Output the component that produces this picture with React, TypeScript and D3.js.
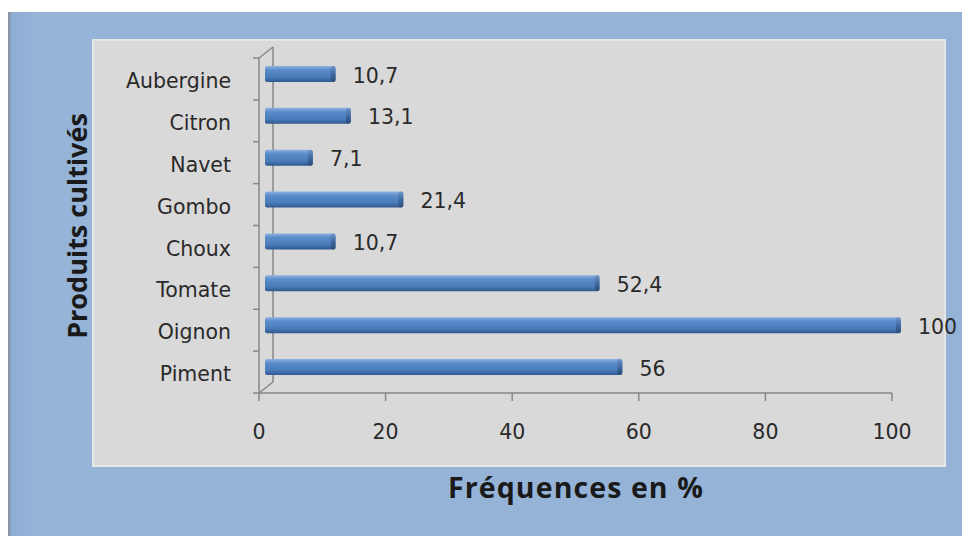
import React from "react";
import * as d3 from "d3";

// Produits cultivés — fréquences en %
const categories = ["Aubergine", "Citron", "Navet", "Gombo", "Choux", "Tomate", "Oignon", "Piment"];
const values = [10.7, 13.1, 7.1, 21.4, 10.7, 52.4, 100, 56];
const valueLabels = ["10,7", "13,1", "7,1", "21,4", "10,7", "52,4", "100", "56"];
const xTicks = [0, 20, 40, 60, 80, 100];

const W = 962;
const H = 536;
const LABEL_FONT = "'DejaVu Sans', Verdana, sans-serif";
const TITLE_FONT = "'Open Sans', 'Liberation Sans', sans-serif";
const LABEL_SIZE = 20.5;

// 3D depth offset of the back wall
const DX = 14;
const DY = -11;
// bars sit partway into the depth
const BDX = 7;
const BDY = -5;

export default function App() {
  const x = d3.scaleLinear().domain([0, 100]).range([259, 892]);
  const y = d3.scaleBand<string>().domain(categories).range([58, 393]).paddingInner(0).paddingOuter(0);
  const bw = y.bandwidth();
  const barH = 16;
  const x0 = x(0);
  const yTop = y.range()[0];
  const yBot = y.range()[1];
  const axisColor = "#868686";

  const boundaries = d3.range(categories.length + 1).map((k) => yTop + k * bw);

  return (
    <svg width={W} height={H} style={{ position: "absolute", left: 0, top: 0 }} xmlns="http://www.w3.org/2000/svg">
      <defs>
        <linearGradient id="barGrad" x1="0" y1="0" x2="0" y2="1">
          <stop offset="0" stopColor="#8fb2e0" />
          <stop offset="0.25" stopColor="#5a8ccb" />
          <stop offset="0.7" stopColor="#4a7cba" />
          <stop offset="1" stopColor="#30598e" />
        </linearGradient>
        <linearGradient id="capGrad" x1="0" y1="0" x2="0" y2="1">
          <stop offset="0" stopColor="#6f95c8" />
          <stop offset="0.5" stopColor="#3f6aa3" />
          <stop offset="1" stopColor="#2a4c7a" />
        </linearGradient>
        <linearGradient id="frameGrad" x1="0" y1="0" x2="1" y2="0">
          <stop offset="0" stopColor="#8eadd3" />
          <stop offset="0.03" stopColor="#96b3d8" />
          <stop offset="1" stopColor="#95b3d7" />
        </linearGradient>
      </defs>

      {/* chart frame */}
      <rect x={8} y={12} width={W - 8} height={H - 12} fill="url(#frameGrad)" />
      <rect x={8} y={12} width={2.5} height={H - 12} fill="#8c97a6" />

      {/* plot area */}
      <rect x={93} y={40} width={852} height={426} fill="#d9d9d9" stroke="#e6e6e6" strokeWidth={2} />

      {/* back wall edge and 3D connectors */}
      <line x1={x0 + DX} y1={yTop + DY} x2={x0 + DX} y2={yBot + DY} stroke={axisColor} strokeWidth={1.5} />
      <line x1={x0} y1={yTop} x2={x0 + DX} y2={yTop + DY} stroke={axisColor} strokeWidth={1.5} />
      <line x1={x0} y1={yBot} x2={x0 + DX} y2={yBot + DY} stroke={axisColor} strokeWidth={1.5} />

      {/* category axis */}
      <line x1={x0} y1={yTop} x2={x0} y2={yBot} stroke={axisColor} strokeWidth={1.5} />
      {boundaries.map((b, i) => (
        <line key={"yt" + i} x1={x0 - 6} y1={b} x2={x0} y2={b} stroke={axisColor} strokeWidth={1.5} />
      ))}
      {categories.map((c) => (
        <text
          key={"cl" + c}
          x={231}
          y={(y(c) as number) + bw / 2 + 2}
          dy="0.35em"
          textAnchor="end"
          fontFamily={LABEL_FONT}
          fontSize={LABEL_SIZE}
          fill="#2a2a2a"
        >
          {c}
        </text>
      ))}

      {/* value axis */}
      <line x1={x0} y1={yBot} x2={x(100)} y2={yBot} stroke={axisColor} strokeWidth={1.5} />
      {xTicks.map((t) => (
        <g key={"xt" + t}>
          <line x1={x(t)} y1={yBot} x2={x(t)} y2={yBot + 8} stroke={axisColor} strokeWidth={1.5} />
          <text
            x={x(t)}
            y={432}
            dy="0.35em"
            textAnchor="middle"
            fontFamily={LABEL_FONT}
            fontSize={LABEL_SIZE}
            fill="#2a2a2a"
          >
            {t}
          </text>
        </g>
      ))}

      {/* bars */}
      {categories.map((c, i) => {
        const cy = (y(c) as number) + bw / 2 + BDY;
        const xs = x0 + BDX - 1;
        const xe = x(values[i]) + BDX + 1;
        return (
          <g key={"bar" + c}>
            <rect x={xs} y={cy - barH / 2} width={xe - xs} height={barH} rx={2} fill="url(#barGrad)" />
            <rect x={xe - 4} y={cy - barH / 2} width={5} height={barH} rx={2.5} fill="url(#capGrad)" />
            <text
              x={xe + 18}
              y={cy + 1.5}
              dy="0.35em"
              textAnchor="start"
              fontFamily={LABEL_FONT}
              fontSize={LABEL_SIZE}
              fill="#2a2a2a"
            >
              {valueLabels[i]}
            </text>
          </g>
        );
      })}

      {/* axis titles */}
      <text
        x={576}
        y={498}
        textAnchor="middle"
        fontFamily={TITLE_FONT}
        fontWeight="bold"
        fontSize={28.5}
        letterSpacing={1.1}
        fill="#1a1a1a"
      >
        Fréquences en %
      </text>
      <text
        transform={`translate(${87},${226}) rotate(-90)`}
        textAnchor="middle"
        fontFamily={TITLE_FONT}
        fontWeight="bold"
        fontSize={27}
        fill="#1a1a1a"
      >
        Produits cultivés
      </text>
    </svg>
  );
}
